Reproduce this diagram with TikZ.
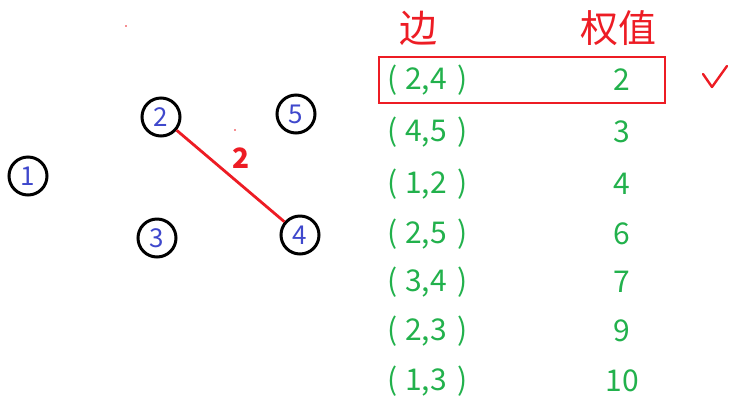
\documentclass[tikz,border=0pt]{standalone}
\usepackage{fontspec}
\setmainfont{Noto Sans CJK SC}
\definecolor{pred}{RGB}{237,28,36}
\definecolor{pgreen}{RGB}{34,177,76}
\definecolor{pblue}{RGB}{63,72,204}
\begin{document}
\begin{tikzpicture}[x=1pt,y=-1pt,
  vert/.style={circle,draw=black,line width=3pt,minimum size=38pt,inner sep=0pt,text=pblue,font=\fontsize{26}{26}\selectfont},
  head/.style={text=pred,font=\fontsize{38}{38}\selectfont,inner sep=0pt},
  edgetxt/.style={text=pgreen,font=\fontsize{30}{30}\selectfont,inner sep=0pt,anchor=west},
  wtxt/.style={text=pgreen,font=\fontsize{30}{30}\selectfont,inner sep=0pt}]
\useasboundingbox (0,0) rectangle (738,408);
\node[vert] (n1) at (28,176) {1};
\node[vert] (n2) at (161,117) {2};
\node[vert] (n5) at (296,114) {5};
\node[vert] (n3) at (157,238) {3};
\node[vert] (n4) at (300,235) {4};
\draw[pred,line width=2.8pt] (n2) -- (n4);
\node[text=pred,font=\bfseries\fontsize{28}{28}\selectfont,inner sep=0pt] (w24) at (241,158) {2};
\fill[pred] (126,26) circle (0.8pt);
\fill[pred] (235,130) circle (0.8pt);
\node[head] (h1) at (418,28) {边};
\node[head] (h2) at (618,28) {权值};
\foreach \e/\w/\y [count=\i] in {{2,4}/2/80,{4,5}/3/132,{1,2}/4/184,{2,5}/6/234,{3,4}/7/282,{2,3}/9/331,{1,3}/10/381}{
  \node[edgetxt] (e\i) at (387,\y) {(\hspace{8pt}\e\hspace{11pt})};
  \node[wtxt] (v\i) at (622,\y) {\w};
}
\node[draw=pred,line width=2.8pt,minimum width=286pt,minimum height=46pt,inner sep=0pt] (sel) at (522,80) {};
\coordinate (c1) at (703,74);
\coordinate (c2) at (712,87);
\coordinate (c3) at (727,66);
\draw[pred,line width=2.4pt,line cap=round,line join=round] (c1) -- (c2) -- (c3);
\end{tikzpicture}
\end{document}
